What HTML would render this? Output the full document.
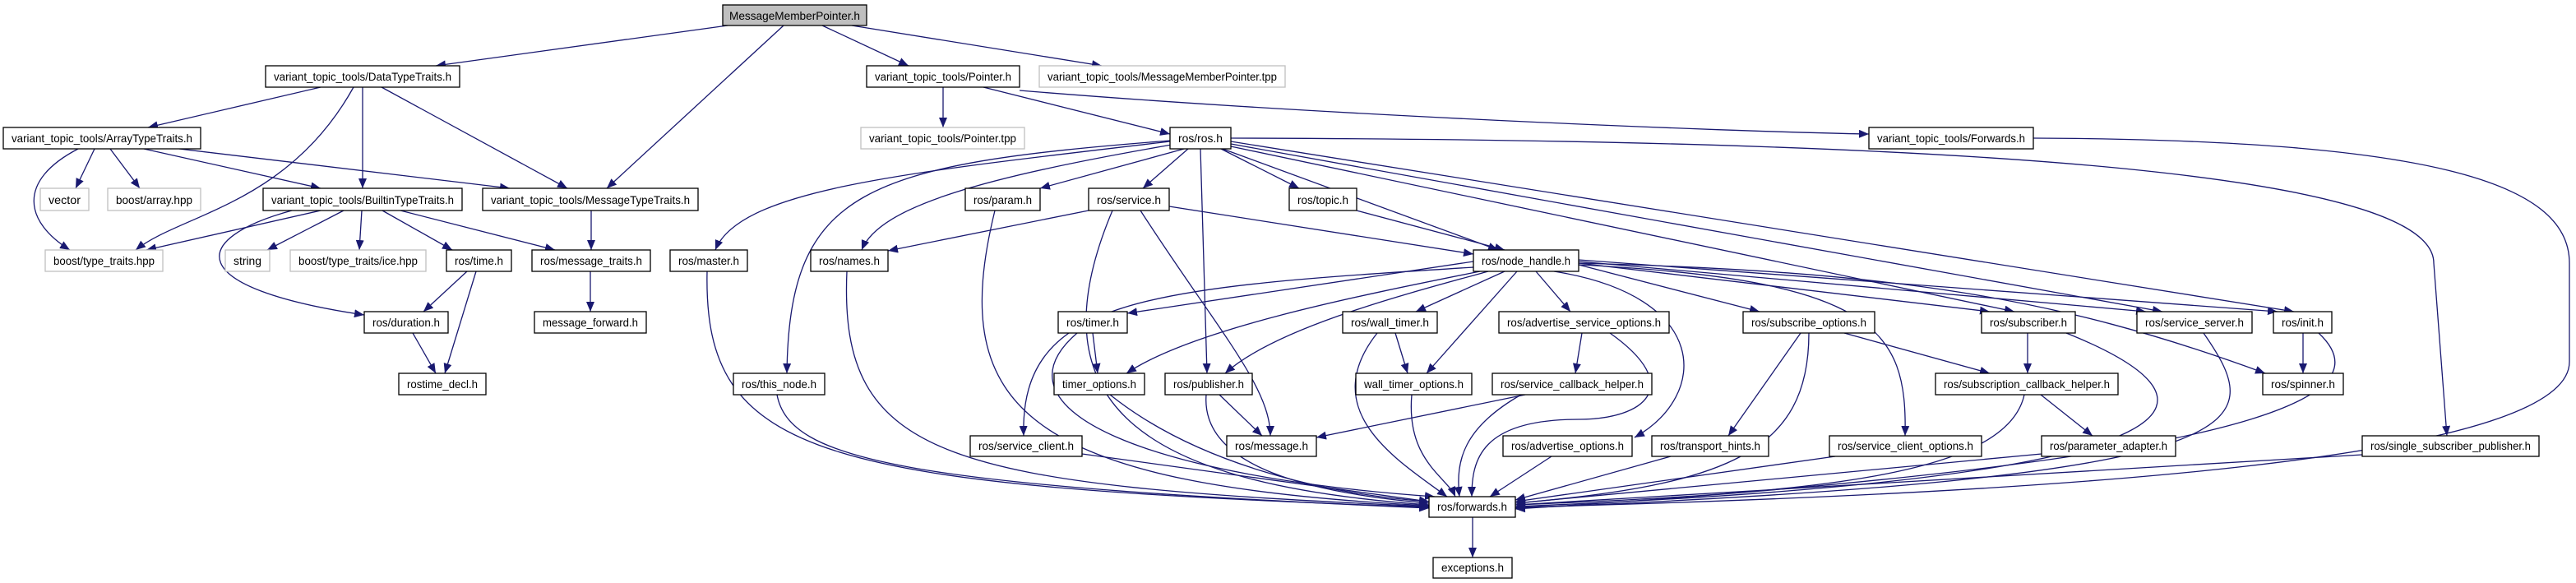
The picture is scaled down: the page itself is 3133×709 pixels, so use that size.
<!DOCTYPE html>
<html><head><meta charset="utf-8"><style>
html,body{margin:0;padding:0;background:#fff;}
svg{display:block}
text{font-family:"Liberation Sans",sans-serif;font-size:14px;fill:#000}
.n{fill:#fff;stroke:#000;stroke-width:1.3}
.g{fill:#fff;stroke:#c0c0c0;stroke-width:1.3}
.r{fill:#bfbfbf;stroke:#000;stroke-width:1.3}
path.e{fill:none;stroke:#191970;stroke-width:1.3;marker-end:url(#a)}
</style></head><body>
<svg width="3133" height="709" viewBox="0 0 3133 709" xmlns="http://www.w3.org/2000/svg">
<defs><marker id="a" markerUnits="userSpaceOnUse" markerWidth="13" markerHeight="10" refX="12" refY="5" orient="auto"><path d="M0,0 L12,5 L0,10 z" fill="#191970"/></marker></defs>
<g>
<path class="e" d="M885,31 L530,80"/>
<path class="e" d="M953,31 L738,229"/>
<path class="e" d="M1000,31 L1105,80"/>
<path class="e" d="M1036,31 L1340,80"/>
<path class="e" d="M390,106 L180,155"/>
<path class="e" d="M430,106 C350,250 220,260 165,304"/>
<path class="e" d="M441,106 L441,229"/>
<path class="e" d="M464,106 L690,229"/>
<path class="e" d="M95,181 C20,220 30,270 85,304"/>
<path class="e" d="M115,181 L92,229"/>
<path class="e" d="M134,181 L170,229"/>
<path class="e" d="M175,181 L390,229"/>
<path class="e" d="M218,181 L620,229"/>
<path class="e" d="M390,256 L178,304"/>
<path class="e" d="M418,256 L325,304"/>
<path class="e" d="M440,256 L437,304"/>
<path class="e" d="M465,256 L550,304"/>
<path class="e" d="M487,256 L675,304"/>
<path class="e" d="M355,256 C230,290 220,350 443,383"/>
<path class="e" d="M719,256 L719,304"/>
<path class="e" d="M718,330 L718,379"/>
<path class="e" d="M568,330 L515,379"/>
<path class="e" d="M579,330 L541,454"/>
<path class="e" d="M502,405 L530,454"/>
<path class="e" d="M1147,106 L1147,155"/>
<path class="e" d="M1196,106 L1423,163"/>
<path class="e" d="M1240,110 C1600,140 2100,160 2273,163"/>
<path class="e" d="M2473,168 C2950,170 3125,220 3125,320 L3125,440 C3125,560 2500,600 1843,617"/>
<path class="e" d="M1497,168 C2500,170 2960,220 2960,320 L2976,530"/>
<path class="e" d="M1423,172 C1100,210 900,230 870,304"/>
<path class="e" d="M1423,171 C1050,200 960,230 957,454"/>
<path class="e" d="M1425,176 C1200,215 1070,250 1048,304"/>
<path class="e" d="M1440,181 L1265,229"/>
<path class="e" d="M1445,181 L1390,229"/>
<path class="e" d="M1460,181 L1468,454"/>
<path class="e" d="M1485,181 L1580,229"/>
<path class="e" d="M1487,181 L1822,304"/>
<path class="e" d="M1497,178 L2450,379"/>
<path class="e" d="M1497,175 L2630,379"/>
<path class="e" d="M1497,172 L2790,379"/>
<path class="e" d="M1210,256 C1150,500 1250,590 1738,615"/>
<path class="e" d="M860,330 C855,560 1000,590 1738,617"/>
<path class="e" d="M945,480 C960,560 1100,590 1738,618"/>
<path class="e" d="M1030,330 C1020,560 1150,590 1738,616"/>
<path class="e" d="M1324,256 L1080,305"/>
<path class="e" d="M1422,251 L1792,309"/>
<path class="e" d="M1353,256 C1250,500 1400,590 1738,614"/>
<path class="e" d="M1387,256 C1480,400 1545,470 1545,530"/>
<path class="e" d="M1650,256 L1830,304"/>
<path class="e" d="M1792,318 L1371,381"/>
<path class="e" d="M1800,330 C1650,360 1450,400 1370,454"/>
<path class="e" d="M1810,330 C1700,360 1550,400 1490,454"/>
<path class="e" d="M1830,330 L1722,379"/>
<path class="e" d="M1845,330 L1735,454"/>
<path class="e" d="M1868,330 L1910,379"/>
<path class="e" d="M1792,325 C1400,350 1240,360 1245,530"/>
<path class="e" d="M1890,330 C2080,360 2080,480 1988,532"/>
<path class="e" d="M1920,322 L2140,379"/>
<path class="e" d="M1920,320 L2420,379"/>
<path class="e" d="M1920,318 L2610,379"/>
<path class="e" d="M1920,316 L2770,379"/>
<path class="e" d="M1920,320 C2300,330 2500,360 2755,454"/>
<path class="e" d="M1920,322 C2280,340 2320,400 2317,530"/>
<path class="e" d="M1329,405 L1335,454"/>
<path class="e" d="M1310,405 C1200,500 1400,580 1745,604"/>
<path class="e" d="M1697,405 L1712,454"/>
<path class="e" d="M1675,405 C1600,500 1700,560 1760,604"/>
<path class="e" d="M1924,405 L1916,454"/>
<path class="e" d="M1958,405 C2050,470 2000,510 1920,510 C1800,510 1790,560 1790,604"/>
<path class="e" d="M1350,480 C1450,560 1600,600 1738,610"/>
<path class="e" d="M1467,480 C1460,570 1600,600 1738,612"/>
<path class="e" d="M1483,480 L1535,530"/>
<path class="e" d="M1717,480 C1710,560 1760,580 1770,604"/>
<path class="e" d="M1855,480 L1601,532"/>
<path class="e" d="M1850,480 C1780,520 1770,560 1775,604"/>
<path class="e" d="M1316,552 L1738,610"/>
<path class="e" d="M1887,555 L1812,604"/>
<path class="e" d="M2032,555 L1843,608"/>
<path class="e" d="M2190,405 L2102,530"/>
<path class="e" d="M2200,405 C2200,550 2100,590 1843,612"/>
<path class="e" d="M2243,405 L2420,454"/>
<path class="e" d="M2466,405 L2466,454"/>
<path class="e" d="M2513,405 C2700,480 2750,580 1843,616"/>
<path class="e" d="M2680,405 C2760,520 2760,580 1843,618"/>
<path class="e" d="M2801,405 L2801,454"/>
<path class="e" d="M2820,405 C2900,480 2770,560 1843,619"/>
<path class="e" d="M2482,480 L2545,530"/>
<path class="e" d="M2462,480 C2440,580 2200,600 1843,614"/>
<path class="e" d="M2483,552 L1843,612"/>
<path class="e" d="M2232,555 L1843,610"/>
<path class="e" d="M2873,553 L1843,614"/>
<path class="e" d="M1791,629 L1791,678"/>
</g>
<g>
<rect class="r" x="879" y="6" width="175" height="25"/><text x="887" y="24" textLength="159" lengthAdjust="spacingAndGlyphs">MessageMemberPointer.h</text>
<rect class="n" x="323" y="80" width="236" height="26"/><text x="333" y="98" textLength="216" lengthAdjust="spacingAndGlyphs">variant_topic_tools/DataTypeTraits.h</text>
<rect class="n" x="1054" y="80" width="186" height="26"/><text x="1064" y="98" textLength="166" lengthAdjust="spacingAndGlyphs">variant_topic_tools/Pointer.h</text>
<rect class="g" x="1264" y="80" width="299" height="26"/><text x="1274" y="98" textLength="279" lengthAdjust="spacingAndGlyphs">variant_topic_tools/MessageMemberPointer.tpp</text>
<rect class="n" x="4" y="155" width="240" height="26"/><text x="14" y="173" textLength="220" lengthAdjust="spacingAndGlyphs">variant_topic_tools/ArrayTypeTraits.h</text>
<rect class="g" x="1047" y="155" width="199" height="26"/><text x="1057" y="173" textLength="179" lengthAdjust="spacingAndGlyphs">variant_topic_tools/Pointer.tpp</text>
<rect class="n" x="1423" y="155" width="74" height="26"/><text x="1433" y="173" textLength="54" lengthAdjust="spacingAndGlyphs">ros/ros.h</text>
<rect class="n" x="2273" y="155" width="200" height="26"/><text x="2283" y="173" textLength="180" lengthAdjust="spacingAndGlyphs">variant_topic_tools/Forwards.h</text>
<rect class="g" x="49" y="229" width="59" height="27"/><text x="59" y="248" textLength="39" lengthAdjust="spacingAndGlyphs">vector</text>
<rect class="g" x="131" y="229" width="113" height="27"/><text x="141" y="248" textLength="93" lengthAdjust="spacingAndGlyphs">boost/array.hpp</text>
<rect class="n" x="320" y="229" width="242" height="27"/><text x="330" y="248" textLength="222" lengthAdjust="spacingAndGlyphs">variant_topic_tools/BuiltinTypeTraits.h</text>
<rect class="n" x="587" y="229" width="262" height="27"/><text x="597" y="248" textLength="242" lengthAdjust="spacingAndGlyphs">variant_topic_tools/MessageTypeTraits.h</text>
<rect class="n" x="1174" y="229" width="91" height="27"/><text x="1184" y="248" textLength="71" lengthAdjust="spacingAndGlyphs">ros/param.h</text>
<rect class="n" x="1324" y="229" width="98" height="27"/><text x="1334" y="248" textLength="78" lengthAdjust="spacingAndGlyphs">ros/service.h</text>
<rect class="n" x="1568" y="229" width="82" height="27"/><text x="1578" y="248" textLength="62" lengthAdjust="spacingAndGlyphs">ros/topic.h</text>
<rect class="g" x="55" y="304" width="143" height="26"/><text x="65" y="322" textLength="123" lengthAdjust="spacingAndGlyphs">boost/type_traits.hpp</text>
<rect class="g" x="274" y="304" width="54" height="26"/><text x="284" y="322" textLength="34" lengthAdjust="spacingAndGlyphs">string</text>
<rect class="g" x="353" y="304" width="165" height="26"/><text x="363" y="322" textLength="145" lengthAdjust="spacingAndGlyphs">boost/type_traits/ice.hpp</text>
<rect class="n" x="543" y="304" width="79" height="26"/><text x="553" y="322" textLength="59" lengthAdjust="spacingAndGlyphs">ros/time.h</text>
<rect class="n" x="647" y="304" width="144" height="26"/><text x="657" y="322" textLength="124" lengthAdjust="spacingAndGlyphs">ros/message_traits.h</text>
<rect class="n" x="815" y="304" width="94" height="26"/><text x="825" y="322" textLength="74" lengthAdjust="spacingAndGlyphs">ros/master.h</text>
<rect class="n" x="986" y="304" width="94" height="26"/><text x="996" y="322" textLength="74" lengthAdjust="spacingAndGlyphs">ros/names.h</text>
<rect class="n" x="1792" y="304" width="128" height="26"/><text x="1802" y="322" textLength="108" lengthAdjust="spacingAndGlyphs">ros/node_handle.h</text>
<rect class="n" x="443" y="379" width="102" height="26"/><text x="453" y="397" textLength="82" lengthAdjust="spacingAndGlyphs">ros/duration.h</text>
<rect class="n" x="650" y="379" width="136" height="26"/><text x="660" y="397" textLength="116" lengthAdjust="spacingAndGlyphs">message_forward.h</text>
<rect class="n" x="1287" y="379" width="84" height="26"/><text x="1297" y="397" textLength="64" lengthAdjust="spacingAndGlyphs">ros/timer.h</text>
<rect class="n" x="1633" y="379" width="115" height="26"/><text x="1643" y="397" textLength="95" lengthAdjust="spacingAndGlyphs">ros/wall_timer.h</text>
<rect class="n" x="1823" y="379" width="207" height="26"/><text x="1833" y="397" textLength="187" lengthAdjust="spacingAndGlyphs">ros/advertise_service_options.h</text>
<rect class="n" x="2120" y="379" width="160" height="26"/><text x="2130" y="397" textLength="140" lengthAdjust="spacingAndGlyphs">ros/subscribe_options.h</text>
<rect class="n" x="2410" y="379" width="114" height="26"/><text x="2420" y="397" textLength="94" lengthAdjust="spacingAndGlyphs">ros/subscriber.h</text>
<rect class="n" x="2599" y="379" width="140" height="26"/><text x="2609" y="397" textLength="120" lengthAdjust="spacingAndGlyphs">ros/service_server.h</text>
<rect class="n" x="2765" y="379" width="71" height="26"/><text x="2775" y="397" textLength="51" lengthAdjust="spacingAndGlyphs">ros/init.h</text>
<rect class="n" x="485" y="454" width="106" height="26"/><text x="495" y="472" textLength="86" lengthAdjust="spacingAndGlyphs">rostime_decl.h</text>
<rect class="n" x="892" y="454" width="111" height="26"/><text x="902" y="472" textLength="91" lengthAdjust="spacingAndGlyphs">ros/this_node.h</text>
<rect class="n" x="1282" y="454" width="110" height="26"/><text x="1292" y="472" textLength="90" lengthAdjust="spacingAndGlyphs">timer_options.h</text>
<rect class="n" x="1417" y="454" width="106" height="26"/><text x="1427" y="472" textLength="86" lengthAdjust="spacingAndGlyphs">ros/publisher.h</text>
<rect class="n" x="1649" y="454" width="141" height="26"/><text x="1659" y="472" textLength="121" lengthAdjust="spacingAndGlyphs">wall_timer_options.h</text>
<rect class="n" x="1815" y="454" width="194" height="26"/><text x="1825" y="472" textLength="174" lengthAdjust="spacingAndGlyphs">ros/service_callback_helper.h</text>
<rect class="n" x="2354" y="454" width="222" height="26"/><text x="2364" y="472" textLength="202" lengthAdjust="spacingAndGlyphs">ros/subscription_callback_helper.h</text>
<rect class="n" x="2752" y="454" width="98" height="26"/><text x="2762" y="472" textLength="78" lengthAdjust="spacingAndGlyphs">ros/spinner.h</text>
<rect class="n" x="1180" y="530" width="136" height="25"/><text x="1190" y="547" textLength="116" lengthAdjust="spacingAndGlyphs">ros/service_client.h</text>
<rect class="n" x="1492" y="530" width="109" height="25"/><text x="1502" y="547" textLength="89" lengthAdjust="spacingAndGlyphs">ros/message.h</text>
<rect class="n" x="1828" y="530" width="157" height="25"/><text x="1838" y="547" textLength="137" lengthAdjust="spacingAndGlyphs">ros/advertise_options.h</text>
<rect class="n" x="2009" y="530" width="142" height="25"/><text x="2019" y="547" textLength="122" lengthAdjust="spacingAndGlyphs">ros/transport_hints.h</text>
<rect class="n" x="2225" y="530" width="185" height="25"/><text x="2235" y="547" textLength="165" lengthAdjust="spacingAndGlyphs">ros/service_client_options.h</text>
<rect class="n" x="2483" y="530" width="163" height="25"/><text x="2493" y="547" textLength="143" lengthAdjust="spacingAndGlyphs">ros/parameter_adapter.h</text>
<rect class="n" x="2873" y="530" width="215" height="25"/><text x="2883" y="547" textLength="195" lengthAdjust="spacingAndGlyphs">ros/single_subscriber_publisher.h</text>
<rect class="n" x="1738" y="604" width="105" height="25"/><text x="1748" y="621" textLength="85" lengthAdjust="spacingAndGlyphs">ros/forwards.h</text>
<rect class="n" x="1743" y="678" width="96" height="25"/><text x="1753" y="695" textLength="76" lengthAdjust="spacingAndGlyphs">exceptions.h</text>
</g>
</svg>
</body></html>
